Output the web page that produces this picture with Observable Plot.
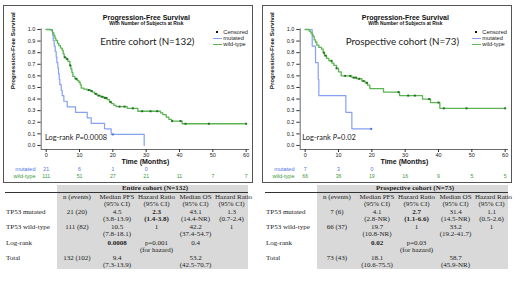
<!DOCTYPE html>
<html><head><meta charset="utf-8">
<script src="https://cdn.jsdelivr.net/npm/d3@7"></script>
<script src="https://cdn.jsdelivr.net/npm/@observablehq/plot@0.6"></script>
<style>
body{margin:0;background:#fff;width:520px;height:292px;position:relative;overflow:hidden;font-family:"Liberation Sans",Arial,sans-serif;}
.panel{position:absolute;top:6px;width:248px;height:176px;outline:1px solid #555;}
.panel svg{position:absolute;left:0;top:0;overflow:visible;}
.lg{position:absolute;font-size:5.7px;line-height:6px;white-space:nowrap;color:#222;transform:translateY(-50%);}
.sw{position:absolute;height:1.2px;width:9px;}
.sq{position:absolute;width:2px;height:2px;background:#111;}
.lr{position:absolute;font-family:Lato,sans-serif;font-size:7.4px;line-height:9px;white-space:nowrap;transform:translateY(-50%);color:#222;}
.tbl{position:absolute;top:185px;display:grid;grid-template-columns:52px 40px 40px 39px 39px 33px;grid-template-rows:8px 15px 15.3px 15.3px 15.3px 15.3px;font-family:"Liberation Serif",serif;font-size:7px;color:#222;}
.c{text-align:center;line-height:6.8px;padding-top:1.2px;box-sizing:border-box;white-space:nowrap;}
.g{background:#d9d9d9;}
.hdr,.hdr0{line-height:7.6px;padding-top:0;border-bottom:0.8px solid #333;font-weight:bold;}
.hdr{padding-left:5px;}
.lab{text-align:left;padding-left:1px;}
.b{font-weight:bold;}
</style>
</head><body>
<script>
// ---------- shared ----------
const timeTicks = [0, 10, 20, 30, 40, 50, 60];
const survTicks = [0, 0.1, 0.2, 0.3, 0.4, 0.5, 0.6, 0.7, 0.8, 0.9, 1.0];
const riskTimes = [0, 10, 20, 30, 40, 50, 60];
const groupNames = ["mutated", "wild-type"];

// ---------- Entire cohort (N=132) ----------
const entireMutT = [0, 1.9, 2.1, 2.4, 2.7, 3.0, 3.2, 3.5, 3.7, 3.9, 4.1, 4.5, 4.8, 5.3, 6.3, 8.8, 12.3, 13.5, 17.5, 19.5, 29.4];
const entireMutS = [1, 0.952, 0.905, 0.857, 0.810, 0.762, 0.714, 0.667, 0.619, 0.571, 0.524, 0.476, 0.429, 0.381, 0.333, 0.286, 0.238, 0.190, 0.143, 0.095, 0];
const entireMutCens = [20.0];
const entireMutEnd = 29.4;
const entireWtT = [0, 1.5, 1.9, 2.3, 2.6, 2.9, 3.4, 3.8, 4.3, 4.8, 5.1, 5.4, 6.0, 6.5, 7.1, 7.4, 7.7, 8.0, 8.6, 9.3, 9.8, 10.2, 10.5, 11.3, 12.3, 13.3, 13.8, 14.5, 15.3, 16.3, 17.3, 18.3, 19.0, 19.6, 20.3, 21.0, 24.3, 27.5, 34.3, 35.0, 36.0, 36.8, 37.6, 40.8];
const entireWtS = [1, 0.99, 0.97, 0.95, 0.925, 0.905, 0.88, 0.86, 0.84, 0.82, 0.79, 0.76, 0.745, 0.725, 0.69, 0.66, 0.63, 0.595, 0.575, 0.56, 0.545, 0.525, 0.495, 0.485, 0.478, 0.47, 0.46, 0.445, 0.43, 0.42, 0.41, 0.395, 0.375, 0.36, 0.345, 0.335, 0.32, 0.295, 0.28, 0.265, 0.245, 0.225, 0.21, 0.187];
const entireWtCens = [5.6, 6.3, 7.2, 9.0, 12.8, 13.6, 14.9, 15.8, 16.8, 17.6, 18.0, 19.3, 22.0, 23.5, 26.0, 28.8, 31.3, 33.3, 37.8, 40.3, 41.8, 48.8, 60];
const entireWtEnd = 60;
const entireMutRisk = [21, 6, 1, 0];
const entireWtRisk = [111, 51, 27, 21, 11, 7, 7];

// ---------- Prospective cohort (N=73) ----------
const prospMutT = [0, 2.1, 3.1, 3.9, 4.1, 12.2, 14.0];
const prospMutS = [1, 0.857, 0.714, 0.571, 0.429, 0.286, 0.143];
const prospMutCens = [19.8];
const prospMutEnd = 19.8;
const prospWtT = [0, 1.2, 1.7, 2.1, 2.4, 2.7, 3.1, 3.5, 4.1, 4.9, 5.4, 5.8, 6.4, 7.1, 8.0, 8.6, 9.4, 10.0, 10.8, 14.0, 15.5, 17.0, 18.0, 18.7, 19.4, 23.5, 28.3, 35.2, 37.6, 40.4];
const prospWtS = [1, 0.985, 0.97, 0.955, 0.94, 0.91, 0.89, 0.865, 0.845, 0.83, 0.80, 0.775, 0.75, 0.73, 0.71, 0.69, 0.665, 0.635, 0.60, 0.585, 0.575, 0.555, 0.54, 0.52, 0.49, 0.46, 0.43, 0.40, 0.37, 0.32];
const prospWtCens = [5.6, 6.1, 7.9, 9.4, 12.0, 13.5, 14.6, 15.2, 16.2, 17.5, 18.5, 28.0, 30.9, 32.9, 37.2, 40.0, 41.6, 48.4, 60];
const prospWtEnd = 60;
const prospMutRisk = [7, 3, 0];
const prospWtRisk = [66, 36, 19, 16, 9, 5, 5];

// ---------- tables ----------
const tableCols = ["n (events)", "Median PFS|(95% CI)", "Hazard Ratio|(95% CI)", "Median OS|(95% CI)", "Hazard Ratio|(95% CI)"];
const rowLabels = ["TP53 mutated", "TP53 wild-type", "Log-rank", "Total"];
const entireRows = [
  ["21 (20)", "4.5|(3.8-13.9)", "2.3|(1.4-3.8)", "43.1|(14.4-NR)", "1.3|(0.7-2.4)"],
  ["111 (82)", "10.5|(7.8-18.1)", "1", "42.2|(37.4-54.7)", "1"],
  ["", "0.0008", "p=0.001|(for hazard)", "0.4", ""],
  ["132 (102)", "9.4|(7.3-13.9)", "", "53.2|(42.5-70.7)", ""]
];
const prospRows = [
  ["7 (6)", "4.1|(2.8-NR)", "2.7|(1.1-6.6)", "31.4|(14.5-NR)", "1.1|(0.5-2.6)"],
  ["66 (37)", "19.7|(10.8-NR)", "1", "33.2|(19.2-41.7)", "1"],
  ["", "0.02", "p=0.03|(for hazard)", "", ""],
  ["73 (43)", "18.1|(10.6-75.5)", "", "58.7|(45.9-NR)", ""]
];
const boldCells = [[0, 2], [2, 1]];

// ---------- colours ----------
const BLUE = "#86a0f2", BLUE_D = "#4a6ee6", BLUE_T = "#4f73e6";
const GREEN = "#5cb454", GREEN_D = "#1f6f1f", GREEN_T = "#3a9a3a";

const stepPts = (T, S, end) => {
  const pts = T.map((t, i) => ({t, s: S[i]}));
  if (end > T[T.length - 1]) pts.push({t: end, s: S[S.length - 1]});
  return pts;
};
const survAt = (T, S, t) => { let s = S[0]; for (let i = 0; i < T.length; i++) if (T[i] <= t) s = S[i]; return s; };

function kmPanel(left, cfg) {
  const mut = stepPts(cfg.mutT, cfg.mutS, cfg.mutEnd);
  const wt = stepPts(cfg.wtT, cfg.wtS, cfg.wtEnd);
  const mutC = cfg.mutCens.map(t => ({t, s: survAt(cfg.mutT, cfg.mutS, t)}));
  const wtC = cfg.wtCens.map(t => ({t, s: survAt(cfg.wtT, cfg.wtS, t)}));
  const chart = Plot.plot({
    width: 248, height: 176,
    marginLeft: 36.7, marginRight: 3, marginTop: 22.4, marginBottom: 33,
    style: {fontFamily: "'Liberation Sans', Arial, sans-serif", fontSize: "5.5px", color: "#333", background: "transparent", overflow: "visible"},
    x: {domain: [-1.5, 61]},
    y: {domain: [-0.035, 1.005]},
    marks: [
      Plot.ruleX([-1.5], {stroke: "#444", strokeWidth: 0.8}),
      Plot.ruleY([-0.035], {stroke: "#444", strokeWidth: 0.8}),
      Plot.axisY({ticks: survTicks, tickFormat: d3.format(".1f"), tickSize: 3.4, tickPadding: 2.5, fontSize: 5.5, label: null, fill: "#222"}),
      Plot.axisX({ticks: timeTicks, tickFormat: d3.format("d"), tickSize: 3, tickPadding: 0.5, fontSize: 5.5, label: null, fill: "#222"}),
      Plot.line(mut, {x: "t", y: "s", curve: "step-after", stroke: BLUE, strokeWidth: 1.2}),
      Plot.line(wt, {x: "t", y: "s", curve: "step-after", stroke: GREEN, strokeWidth: 1.3}),
      Plot.dot(mutC, {x: "t", y: "s", symbol: "square", r: 1.1, fill: BLUE_D}),
      Plot.dot(wtC, {x: "t", y: "s", symbol: "square", r: 1.1, fill: GREEN_D}),
      Plot.text(["Progression-Free Survival"], {text: d => d, frameAnchor: "top", dy: -14.3, dx: 1, fontWeight: "bold", fontSize: 7, fill: "#111"}),
      Plot.text(["With Number of Subjects at Risk"], {text: d => d, frameAnchor: "top", dy: -6.9, dx: 1, fontWeight: "bold", fontSize: 4.8, fill: "#111"}),
      Plot.text([cfg.label], {text: d => d, frameAnchor: "top", dy: 9.6, dx: cfg.labelDx, fontFamily: "Lato, sans-serif", fontSize: 9.8, fill: "#222"}),
      Plot.text(["Progression-Free Survival"], {text: d => d, frameAnchor: "left", dx: -27.7, rotate: -90, fontWeight: "bold", fontSize: 6.2, fill: "#111"}),
      Plot.text(["Time (Months)"], {text: d => d, frameAnchor: "bottom", dy: 14, fontWeight: "bold", fontSize: 7, fill: "#111"}),
      Plot.text(cfg.mutRisk, {x: (d, i) => riskTimes[i], text: d => String(d), frameAnchor: "bottom", dy: 21, fontSize: 5.2, fill: BLUE_T}),
      Plot.text(cfg.wtRisk, {x: (d, i) => riskTimes[i], text: d => String(d), frameAnchor: "bottom", dy: 28, fontSize: 5.2, fill: GREEN_T}),
      Plot.text([groupNames[0]], {text: d => d, frameAnchor: "bottom-left", dx: -5.7, dy: 21, textAnchor: "end", fontSize: 5.6, fill: BLUE_T}),
      Plot.text([groupNames[1]], {text: d => d, frameAnchor: "bottom-left", dx: -5.7, dy: 28, textAnchor: "end", fontSize: 5.6, fill: GREEN_T})
    ]
  });
  const p = document.createElement("div");
  p.className = "panel";
  p.style.left = left + "px";
  p.appendChild(chart);
  p.insertAdjacentHTML("beforeend",
    `<div class="sq" style="left:212.3px;top:25px"></div>
     <div class="lg" style="left:219.3px;top:26px">Censored</div>
     <div class="sw" style="left:208.7px;top:31.7px;background:${BLUE}"></div>
     <div class="lg" style="left:219.3px;top:32.3px">${groupNames[0]}</div>
     <div class="sw" style="left:208.7px;top:37.7px;background:${GREEN}"></div>
     <div class="lg" style="left:219.3px;top:38.3px">${groupNames[1]}</div>
     <div class="lr" style="left:${cfg.lrX}px;top:131px">Log-rank <i>P</i>=${cfg.p}</div>`);
  document.body.appendChild(p);
}

function buildTable(left, title, rows) {
  const g = document.createElement("div");
  g.className = "tbl";
  g.style.left = left + "px";
  const add = (cls, html, extra) => {
    const d = document.createElement("div");
    d.className = cls; d.innerHTML = html;
    if (extra) Object.assign(d.style, extra);
    g.appendChild(d);
  };
  add("c hdr0", "");
  add("c hdr g", title, {gridColumn: "2 / 7"});
  add("c", "");
  tableCols.forEach(c => add("c g", c.split("|").join("<br>")));
  rows.forEach((r, i) => {
    add("c lab", rowLabels[i]);
    r.forEach((v, j) => add("c g" + (boldCells.some(b => b[0] === i && b[1] === j) ? " b" : ""), v.split("|").join("<br>")));
  });
  document.body.appendChild(g);
}

kmPanel(4, {label: "Entire cohort (N=132)", labelDx: 2, p: "0.0008", lrX: 41,
  mutT: entireMutT, mutS: entireMutS, mutCens: entireMutCens, mutEnd: entireMutEnd,
  wtT: entireWtT, wtS: entireWtS, wtCens: entireWtCens, wtEnd: entireWtEnd,
  mutRisk: entireMutRisk, wtRisk: entireWtRisk});
kmPanel(263, {label: "Prospective cohort (N=73)", labelDx: -2, p: "0.02", lrX: 39.3,
  mutT: prospMutT, mutS: prospMutS, mutCens: prospMutCens, mutEnd: prospMutEnd,
  wtT: prospWtT, wtS: prospWtS, wtCens: prospWtCens, wtEnd: prospWtEnd,
  mutRisk: prospMutRisk, wtRisk: prospWtRisk});
buildTable(5, "Entire cohort (N=132)", entireRows);
buildTable(265, "Prospective cohort (N=73)", prospRows);
</script>
</body></html>
